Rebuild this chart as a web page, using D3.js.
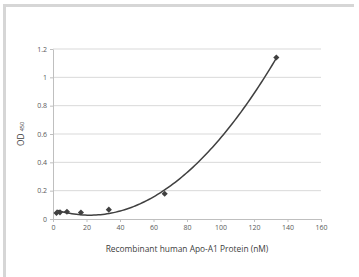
<!DOCTYPE html>
<html>
<head>
<meta charset="utf-8">
<script src="https://cdn.jsdelivr.net/npm/d3@7"></script>
<style>
    body { margin: 0; background: #fff; }
    .axis text { font-family: "Open Sans", "Liberation Sans", sans-serif; font-size: 7px; fill: #595959; }
    .axis path, .axis line { stroke: #bfbfbf; }
    .grid line { stroke: #d9d9d9; }
    .title { font-family: "Open Sans", "Liberation Sans", sans-serif; font-size: 8.4px; fill: #404040; }
</style>
</head>
<body>
<div id="chart"></div>
<script>
// concentrations (nM) and OD450 readings
let concentration = [2.08, 4.17, 8.33, 16.67, 33.33, 66.67, 133.33];
let od450 = [0.042, 0.047, 0.051, 0.046, 0.066, 0.178, 1.14];
let xTicks = [0, 20, 40, 60, 80, 100, 120, 140, 160];
let yTicks = [0, 0.2, 0.4, 0.6, 0.8, 1, 1.2];

let margin = { top: 49, right: 38, bottom: 58, left: 53 };
let width = 359 - margin.left - margin.right;
let height = 277 - margin.top - margin.bottom;

let root = d3.select("#chart").append("svg")
    .attr("width", 359)
    .attr("height", 277);

// frame of the screenshot (left + top edges only)
root.append("path")
    .attr("d", "M4.5,277 V5.5 H354")
    .attr("fill", "none")
    .attr("stroke", "#d6d6d6")
    .attr("stroke-width", 3);

let svg = root.append("g")
    .attr("transform", "translate(" + margin.left + "," + margin.top + ")");

let x = d3.scaleLinear().domain([0, 160]).range([0, width]);
let y = d3.scaleLinear().domain([0, 1.2]).range([height, 0]);

svg.append("g")
    .attr("class", "grid")
    .selectAll("line")
    .data(yTicks.slice(1))
    .enter().append("line")
    .attr("x1", 0)
    .attr("x2", width)
    .attr("y1", d => y(d))
    .attr("y2", d => y(d));

svg.append("g")
    .attr("class", "x-axis axis")
    .attr("transform", "translate(0," + height + ")")
    .call(d3.axisBottom(x).tickValues(xTicks).tickSize(3).tickSizeOuter(0).tickPadding(3));

svg.append("g")
    .attr("class", "y-axis axis")
    .call(d3.axisLeft(y).tickValues(yTicks).tickSize(3).tickSizeOuter(0).tickPadding(3)
        .tickFormat(d => d3.format("~g")(d)));

// quadratic least squares trendline
let n = concentration.length;
let s = [0, 0, 0, 0, 0], t = [0, 0, 0];
concentration.forEach(function(cx, i) {
    for (let k = 0; k < 5; k++) s[k] += Math.pow(cx, k);
    for (let k = 0; k < 3; k++) t[k] += Math.pow(cx, k) * od450[i];
});
let M = [[s[0], s[1], s[2], t[0]], [s[1], s[2], s[3], t[1]], [s[2], s[3], s[4], t[2]]];
for (let i = 0; i < 3; i++) {
    for (let j = i + 1; j < 3; j++) {
        let f = M[j][i] / M[i][i];
        for (let k = i; k < 4; k++) M[j][k] -= f * M[i][k];
    }
}
let c = [0, 0, 0];
for (let i = 2; i >= 0; i--) {
    let v = M[i][3];
    for (let k = i + 1; k < 3; k++) v -= M[i][k] * c[k];
    c[i] = v / M[i][i];
}
let fit = d3.range(0, 101).map(function(i) {
    let cx = concentration[0] + (concentration[n - 1] - concentration[0]) * i / 100;
    return [cx, c[0] + c[1] * cx + c[2] * cx * cx];
});

svg.append("path")
    .datum(fit)
    .attr("fill", "none")
    .attr("stroke", "#404040")
    .attr("stroke-width", 1.5)
    .attr("d", d3.line().x(d => x(d[0])).y(d => y(d[1])));

svg.selectAll(".dot")
    .data(concentration)
    .enter().append("path")
    .attr("class", "dot")
    .attr("d", d3.symbol().type(d3.symbolDiamond2).size(24))
    .attr("transform", (d, i) => "translate(" + x(d) + "," + y(od450[i]) + ")")
    .attr("fill", "#404040");

svg.append("text")
    .attr("class", "title")
    .attr("x", width / 2)
    .attr("y", height + 33)
    .attr("text-anchor", "middle")
    .text("Recombinant human Apo-A1 Protein (nM)");

let yl = svg.append("text")
    .attr("class", "title")
    .attr("transform", "translate(-29," + (height / 2) + ") rotate(-90)")
    .attr("text-anchor", "middle");
yl.append("tspan").text("OD ");
yl.append("tspan").attr("font-size", "5.5px").text("450");
</script>
</body>
</html>
